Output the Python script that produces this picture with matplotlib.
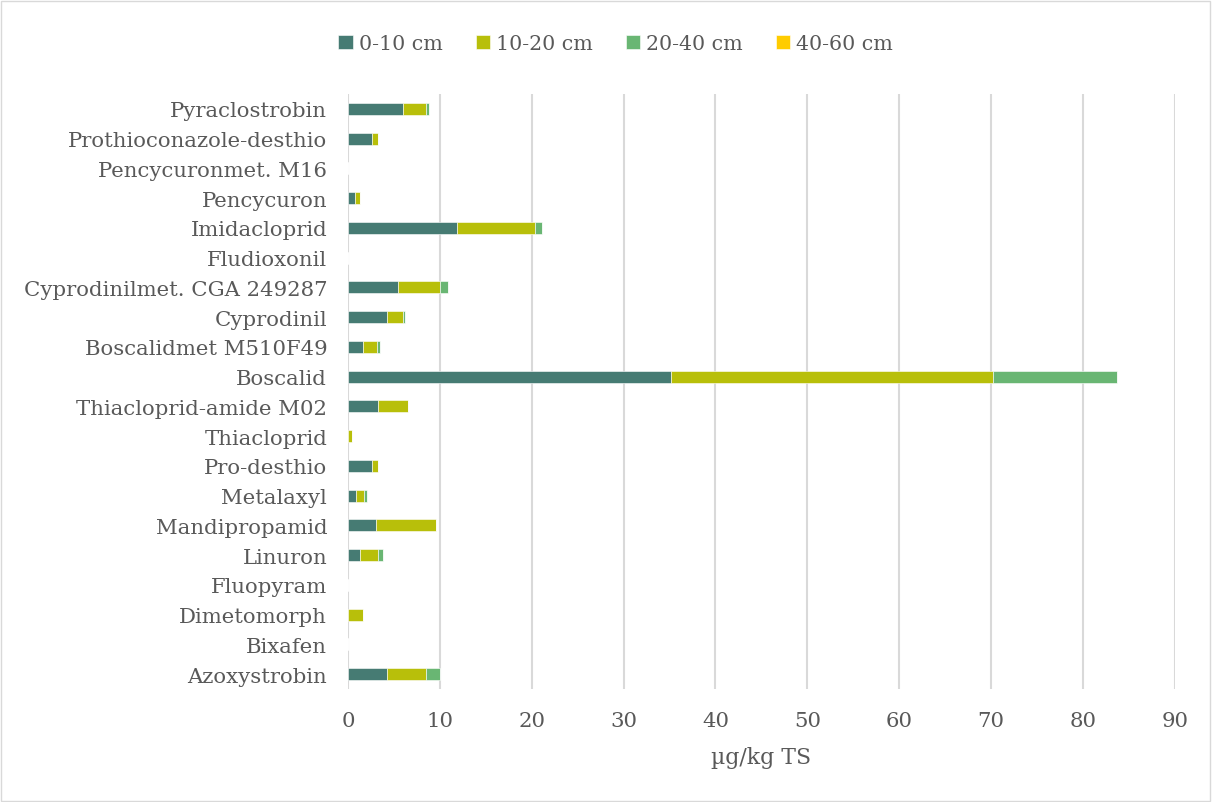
import matplotlib
matplotlib.use("Agg")
import matplotlib.pyplot as plt
from matplotlib.patches import Rectangle
import numpy as np

# Substances, listed bottom to top
substances = [
    "Azoxystrobin", "Bixafen", "Dimetomorph", "Fluopyram", "Linuron",
    "Mandipropamid", "Metalaxyl", "Pro-desthio", "Thiacloprid",
    "Thiacloprid-amide M02", "Boscalid", "Boscalidmet M510F49", "Cyprodinil",
    "Cyprodinilmet. CGA 249287", "Fludioxonil", "Imidacloprid", "Pencycuron",
    "Pencycuronmet. M16", "Prothioconazole-desthio", "Pyraclostrobin",
]

# Residues in µg/kg TS per soil depth
depth_0_10 = [4.25, 0, 0, 0, 1.34, 3.0, 0.87, 2.6, 0, 3.27,
              35.2, 1.63, 4.25, 5.48, 0, 11.9, 0.8, 0, 2.6, 6.0]
depth_10_20 = [4.2, 0, 1.67, 0, 1.89, 6.58, 0.91, 0.62, 0.42, 3.23,
               34.95, 1.49, 1.7, 4.5, 0, 8.5, 0.47, 0, 0.62, 2.46]
depth_20_40 = [1.52, 0, 0, 0, 0.58, 0, 0.25, 0, 0, 0,
               13.6, 0.4, 0.22, 0.87, 0, 0.73, 0, 0, 0, 0.33]
depth_40_60 = [0] * 20

series_labels = ["0-10 cm", "10-20 cm", "20-40 cm", "40-60 cm"]
series_colors = ["#467B73", "#B8BF0A", "#69B673", "#FFCC00"]
x_ticks = [0, 10, 20, 30, 40, 50, 60, 70, 80, 90]

text_color = "#595959"
plt.rcParams["font.family"] = ["DejaVu Serif"]

fig = plt.figure(figsize=(12.12, 8.03), dpi=100)
fig.patches.append(Rectangle((0.001, 0.001), 0.997, 0.997, transform=fig.transFigure,
                             fill=False, edgecolor="#D9D9D9", linewidth=1.0))
ax = fig.add_axes([0.2871, 0.1407, 0.6823, 0.741])

y = np.arange(len(substances))
left = np.zeros(len(substances))
handles = []
for vals, lab, col in zip([depth_0_10, depth_10_20, depth_20_40, depth_40_60],
                          series_labels, series_colors):
    vals = np.array(vals, dtype=float)
    h = ax.barh(y, vals, left=left, height=0.4, color=col, label=lab,
                edgecolor="white", linewidth=0.4, zorder=3)
    handles.append(h)
    left += vals

ax.set_xlim(0, 90)
ax.set_ylim(-0.5, len(substances) - 0.5)
ax.set_xticks(x_ticks)
ax.set_xticklabels([str(t) for t in x_ticks])
ax.set_yticks(y)
ax.set_yticklabels(substances)
ax.grid(axis="x", color="#D9D9D9", linewidth=1.5, zorder=0)
ax.set_axisbelow(True)
for s in ax.spines.values():
    s.set_visible(False)
ax.tick_params(axis="both", length=0, colors=text_color, labelsize=15.3)
ax.tick_params(axis="y", pad=15)
ax.tick_params(axis="x", pad=16)
ax.set_xlabel("µg/kg TS", fontsize=15.8, color=text_color, labelpad=11)

fig.legend(handles=handles, labels=series_labels, loc="center",
           bbox_to_anchor=(0.508, 0.944), ncol=4, frameon=False,
           fontsize=14.8, labelcolor=text_color, handlelength=0.7,
           handleheight=0.7, handletextpad=0.3, columnspacing=1.6)

fig.savefig("out.png", dpi=100)
